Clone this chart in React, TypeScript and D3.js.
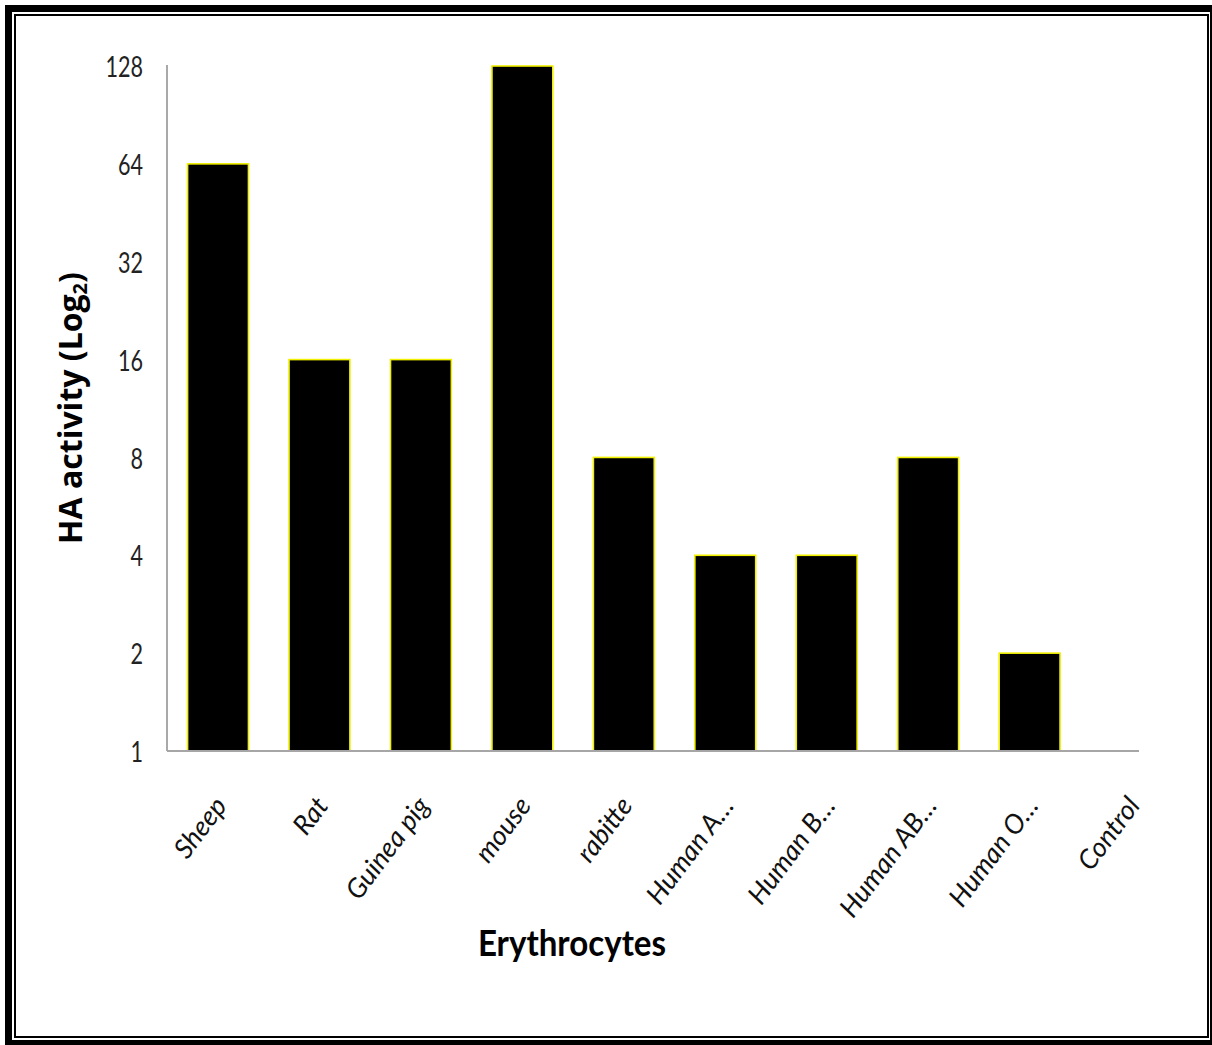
import React from 'react';
import * as d3 from 'd3';

const categories = ['Sheep', 'Rat', 'Guinea pig', 'mouse', 'rabitte', 'Human A…', 'Human B…', 'Human AB…', 'Human O…', 'Control'];
const haActivity = [64, 16, 16, 128, 8, 4, 4, 8, 2, 1];
const yTicks = [1, 2, 4, 8, 16, 32, 64, 128];
const yTitle = 'HA activity (Log';
const yTitleSub = '2';
const xTitle = 'Erythrocytes';

const FONT = 'Lato, "Open Sans", sans-serif';

export default function App() {
  const W = 1212;
  const H = 1045;
  const x = d3.scaleBand<string>().domain(categories).range([167.3, 1181.8]).paddingInner(0.4).paddingOuter(0.2);
  const y = d3.scaleLog().base(2).domain([1, 128]).range([751, 66]);
  const data = categories.map((c, i) => ({ c, v: haActivity[i] }));

  return (
    <svg width={W} height={H} style={{ position: 'absolute', left: 0, top: 0, background: '#fff' }} fontFamily={FONT}>
      <rect x={0} y={0} width={W} height={H} fill="#fff" />
      {/* frame */}
      <rect x={8.5} y={8.5} width={1205} height={1035} fill="none" stroke="#000" strokeWidth={7} />
      <rect x={15} y={15} width={1193} height={1022} fill="none" stroke="#000" strokeWidth={2} />

      {/* bars */}
      {data.map((d) => (
        <rect key={d.c} x={x(d.c)} y={y(d.v)} width={x.bandwidth()} height={y(1) - y(d.v)}
          fill="#000" stroke={d.v > 1 ? '#f0f000' : 'none'} strokeWidth={1.6} />
      ))}

      {/* axes */}
      <line x1={167} x2={167} y1={65} y2={751} stroke="#8c8c8c" strokeWidth={1.5} />
      <line x1={167} x2={1139} y1={751} y2={751} stroke="#a6a6a6" strokeWidth={2} />

      {/* y ticks */}
      {yTicks.map((t) => (
        <text key={t} transform={`translate(143,${y(t)}) scale(0.77,1)`} textAnchor="end" dominantBaseline="central"
          fontSize={28} fill="#222">{t}</text>
      ))}

      {/* x labels */}
      {categories.map((c) => (
        <text key={c} transform={`translate(${(x(c) as number) + x.bandwidth() / 2 + 10},806) rotate(-53)`}
          textAnchor="end" fontSize={27} fontStyle="italic" fill="#111">{c}</text>
      ))}

      {/* y title */}
      <text transform="translate(82,408) rotate(-90)" textAnchor="middle" fontSize={32} fontWeight="bold" fill="#000"
        fontFamily='"Open Sans", Lato, sans-serif'>
        {yTitle}<tspan fontSize={20} dy={5}>{yTitleSub}</tspan><tspan dy={-5}>)</tspan>
      </text>

      {/* x title */}
      <text transform="translate(572,956) scale(0.92,1)" textAnchor="middle" fontSize={36} fontWeight="bold" fill="#000">{xTitle}</text>
    </svg>
  );
}
